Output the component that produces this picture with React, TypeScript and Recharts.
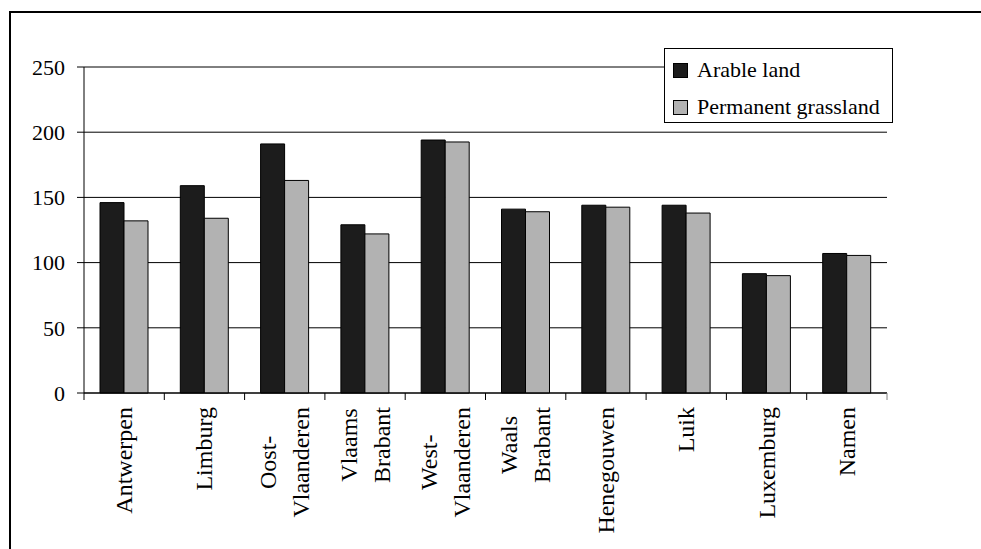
import { BarChart, Bar, XAxis, YAxis, CartesianGrid, ReferenceLine } from 'recharts'

// regions (line breaks mark the two-line labels)
const REGIONS = [
  'Antwerpen',
  'Limburg',
  'Oost-\nVlaanderen',
  'Vlaams\nBrabant',
  'West-\nVlaanderen',
  'Waals\nBrabant',
  'Henegouwen',
  'Luik',
  'Luxemburg',
  'Namen',
]
const ARABLE = [146, 159, 191, 129, 194, 141, 144, 144, 91.5, 107]
const GRASSLAND = [132, 134, 163, 122, 192.5, 139, 142.5, 138, 90, 105.5]
const Y_TICKS = [0, 50, 100, 150, 200, 250]

const SERIES = [
  { key: 'arable', name: 'Arable land', fill: '#1c1c1c' },
  { key: 'grassland', name: 'Permanent grassland', fill: '#b2b2b2' },
]

const data = REGIONS.map((region, i) => ({
  region,
  arable: ARABLE[i],
  grassland: GRASSLAND[i],
}))

const W = 981
const H = 549
const MARGIN = { top: 67, right: 94, bottom: 6, left: 24 }
const Y_AXIS_W = 60
const PLOT_W = W - MARGIN.left - Y_AXIS_W - MARGIN.right
const FONT = 'Liberation Serif'
const LABEL_SIZE = 24
const LABEL_TOP = 14
const LINE_GAP = 33

const ctx = typeof document !== 'undefined' ? document.createElement('canvas').getContext('2d') : null
function textWidth(s: string) {
  if (!ctx) return s.length * LABEL_SIZE * 0.45
  ctx.font = `${LABEL_SIZE}px "${FONT}"`
  return ctx.measureText(s).width
}

function RegionTick(props: any) {
  const { x, y, payload, index } = props
  const half = payload?.offset || PLOT_W / REGIONS.length / 2
  const lines = String(payload.value).split('\n')
  const block = Math.max(...lines.map(textWidth))
  const mid = y + LABEL_TOP + block / 2
  return (
    <g>
      <line x1={x - half} x2={x - half} y1={y} y2={y + 7} stroke="#000" />
      {index === REGIONS.length - 1 && (
        <line x1={x + half} x2={x + half} y1={y} y2={y + 7} stroke="#808080" />
      )}
      {lines.map((line, i) => (
        <text
          key={i}
          transform={`translate(${x + (i - (lines.length - 1) / 2) * LINE_GAP}, ${mid}) rotate(-90)`}
          textAnchor="middle"
          dominantBaseline="central"
          fontSize={LABEL_SIZE}
          fontFamily={FONT}
          fill="#000"
        >
          {line}
        </text>
      ))}
    </g>
  )
}

function LegendBox() {
  return (
    <div
      style={{
        position: 'absolute',
        left: 664,
        top: 48,
        width: 227,
        height: 73,
        border: '1px solid #000',
        background: '#fff',
        fontFamily: `"${FONT}"`,
        fontSize: 22,
        color: '#000',
        boxSizing: 'content-box',
      }}
    >
      {SERIES.map((s, i) => (
        <div
          key={s.key}
          style={{ position: 'absolute', left: 8, top: 9 + i * 37, display: 'flex', alignItems: 'center', whiteSpace: 'nowrap', lineHeight: '24px' }}
        >
          <span style={{ width: 13, height: 13, border: '1px solid #000', background: s.fill, marginRight: 9, display: 'inline-block' }} />
          <span>{s.name}</span>
        </div>
      ))}
    </div>
  )
}

export default function App() {
  return (
    <div style={{ position: 'absolute', left: 0, top: 0, width: W, height: H, overflow: 'hidden', background: '#fff' }}>
      <div style={{ position: 'absolute', left: 9, top: 11, width: 1200, height: 800, border: '2px solid #000' }} />
      <div style={{ position: 'absolute', left: 0, top: 0 }}>
        <BarChart width={W} height={H} data={data} margin={MARGIN} barGap={0} barSize={24}>
          <CartesianGrid vertical={false} stroke="#000" />
          <XAxis
            dataKey="region"
            interval={0}
            height={150}
            tickLine={false}
            tickSize={0}
            tickMargin={0}
            axisLine={{ stroke: '#000' }}
            tick={<RegionTick />}
          />
          <YAxis
            domain={[0, 250]}
            ticks={Y_TICKS}
            width={Y_AXIS_W}
            tickSize={7}
            tickMargin={12}
            axisLine={{ stroke: '#000' }}
            tickLine={{ stroke: '#000' }}
            tick={{ fill: '#000', fontSize: 22, fontFamily: FONT }}
          />
          <YAxis
            yAxisId="frame"
            orientation="right"
            domain={[0, 250]}
            width={0}
            tick={false}
            tickLine={false}
            axisLine={{ stroke: '#808080' }}
          />
          <ReferenceLine y={250} stroke="#808080" />
          {SERIES.map((s) => (
            <Bar
              key={s.key}
              dataKey={s.key}
              name={s.name}
              fill={s.fill}
              stroke="#000"
              strokeWidth={1}
              isAnimationActive={false}
            />
          ))}
        </BarChart>
      </div>
      <LegendBox />
    </div>
  )
}
